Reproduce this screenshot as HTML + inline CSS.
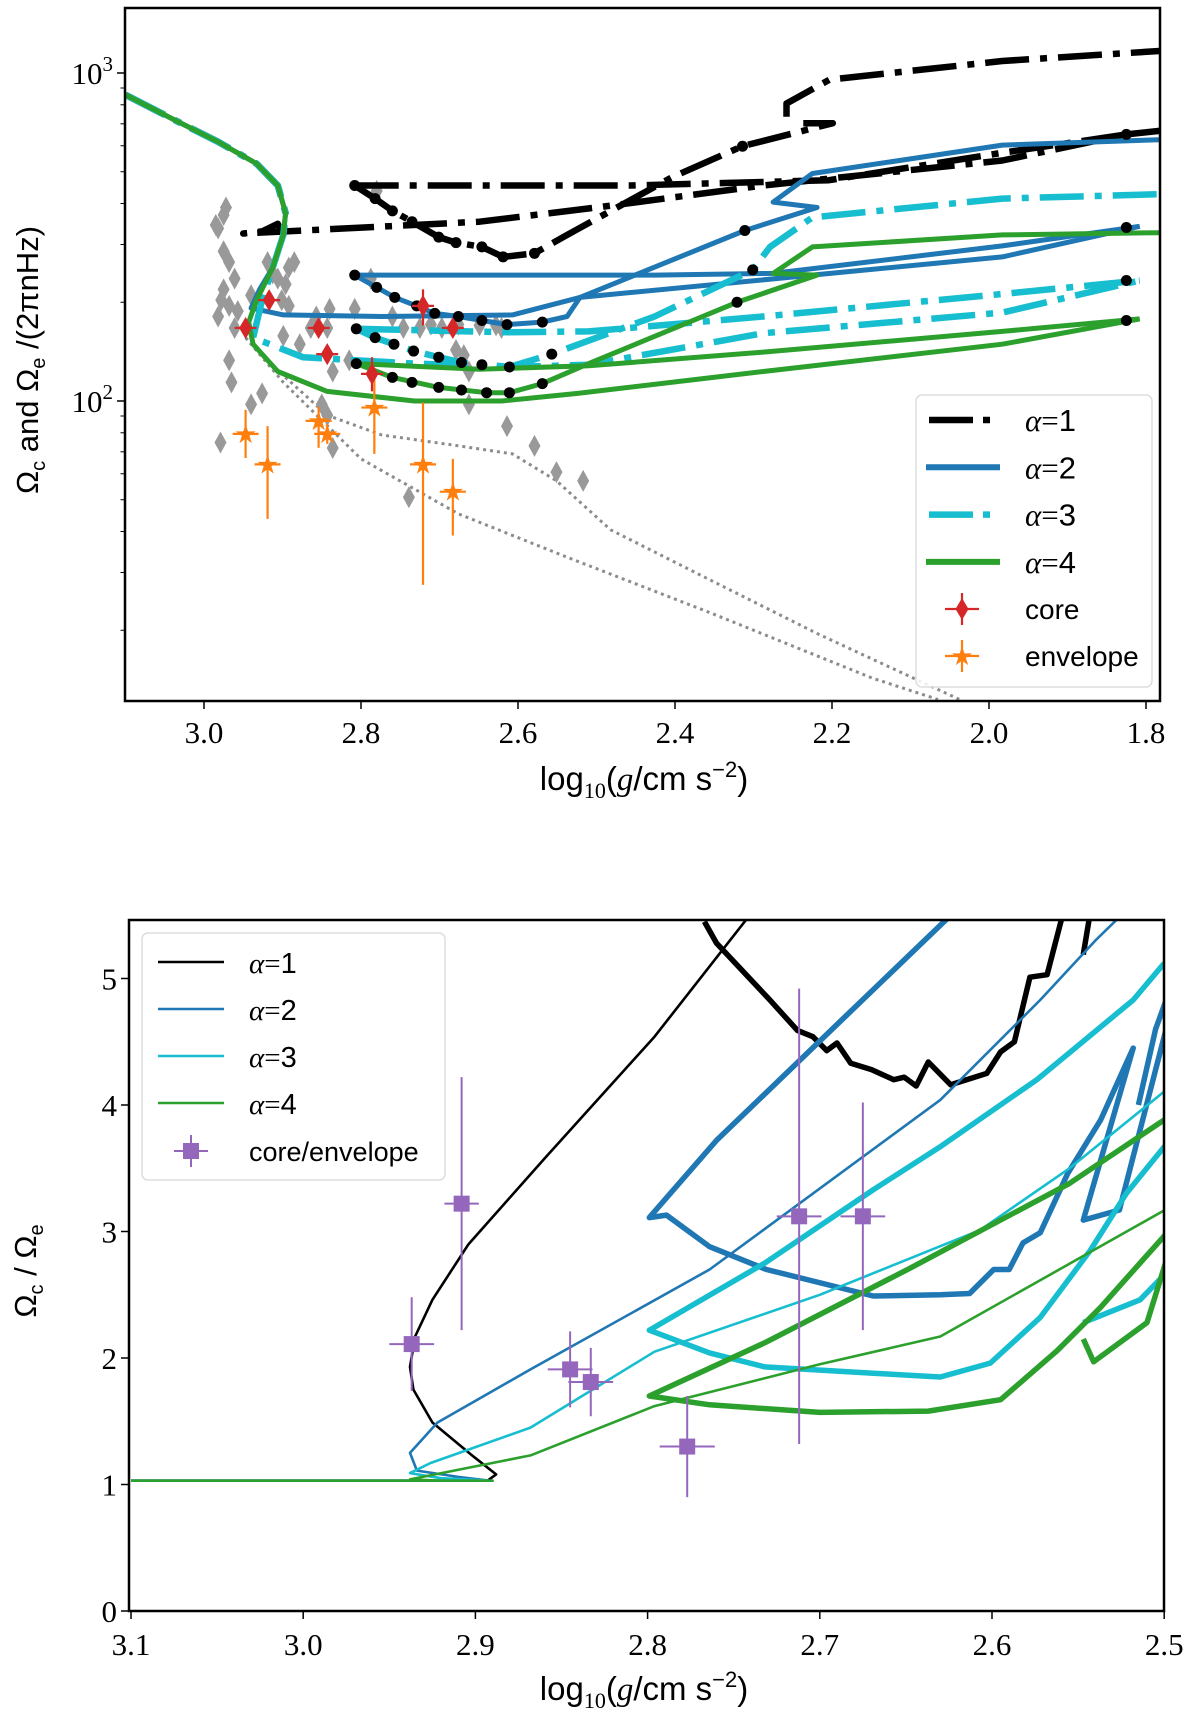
<!DOCTYPE html>
<html><head><meta charset="utf-8">
<style>
html,body{margin:0;padding:0;background:#fff;}
svg{font-family:"Liberation Serif",serif;}
</style></head>
<body>
<svg id="fig" width="1200" height="1718" viewBox="0 0 1200 1718" xmlns="http://www.w3.org/2000/svg">
<defs>
<clipPath id="clipTop"><rect x="125" y="8" width="1035" height="693"/></clipPath>
<clipPath id="clipBot"><rect x="129" y="920" width="1035" height="691"/></clipPath>
</defs>
<g id="top"></g>
<g id="bot"></g>
</svg>
<script>
// ================= TOP PANEL DATA =================
const topXTicks = [3.0, 2.8, 2.6, 2.4, 2.2, 2.0, 1.8];
const topXTickLabels = ["3.0","2.8","2.6","2.4","2.2","2.0","1.8"];
const sharedTrack = [[3.10,858],[3.0375,719],[2.982,617],[2.933,529],[2.906,454],[2.896,374],[2.899,321]];
const a1Main = [[2.906,347],[2.926,329],[2.95,324],[2.649,352],[2.5,389],[2.2875,454],[1.983,541],[1.825,650],[1.783,666]];
const a1Flat = [[2.808,454],[2.457,454],[2.204,471],[1.983,571],[1.825,650]];
const a1Dotted = [[2.808,454],[2.782,414],[2.76,380],[2.735,352],[2.701,316],[2.679,304],[2.646,295],[2.619,275],[2.579,282],[2.5375,321],[2.403,482],[2.314,598],[2.199,703],[2.239,703]];
const a1Upper = [[2.258,736],[2.258,807],[2.203,955],[1.983,1088],[1.783,1167]];
const a2Main = [[2.9125,255],[2.929,219],[2.94,192],[2.899,183],[2.774,181],[2.607,183],[2.521,207],[1.983,275],[1.808,341]];
const a2Flat = [[2.808,242],[2.426,242],[2.275,245],[1.983,297],[1.808,341]];
const a2Dotted = [[2.808,242],[2.78,222],[2.757,207],[2.729,195],[2.706,185],[2.676,181],[2.614,171],[2.569,174],[2.5375,181],[2.521,207],[2.311,331],[2.219,389],[2.275,404],[2.225,494],[1.983,603],[1.783,626]];
const a3Main = [[2.9125,255],[2.926,203],[2.9375,156],[2.874,136],[2.732,130],[2.607,127],[2.51,129],[2.2875,161],[1.983,186],[1.808,233]];
const a3Flat = [[2.806,166],[2.611,162],[2.51,163],[2.2875,181],[1.983,212],[1.808,233]];
const a3Dotted = [[2.806,166],[2.782,156],[2.758,149],[2.733,142],[2.701,136],[2.672,131],[2.611,127],[2.557,139],[2.426,181],[2.301,251],[2.279,295],[2.225,363],[1.983,414],[1.783,427]];
const a4Main = [[2.9125,255],[2.933,203],[2.943,174],[2.9375,149],[2.906,123],[2.843,107],[2.732,100],[2.621,100],[2.524,105.5],[2.2875,123],[1.983,149],[1.808,178]];
const a4Flat = [[2.806,130],[2.649,125],[2.51,128],[2.2875,141],[1.983,163],[1.808,178]];
const a4Dotted = [[2.806,130],[2.76,118],[2.701,110],[2.64,106],[2.611,106],[2.569,113],[2.51,130],[2.321,200],[2.219,242],[2.275,245],[2.225,295],[1.983,321],[1.783,326]];
const modelDotsX = [2.808,2.782,2.76,2.735,2.701,2.679,2.646,2.619,2.579, 2.808,2.78,2.757,2.729,2.706,2.676,2.646,2.614,2.569, 2.806,2.782,2.758,2.733,2.701,2.672,2.646,2.611,2.557, 2.806,2.76,2.735,2.701,2.672,2.64,2.611,2.569, 2.311,2.301,2.321,2.314, 1.825,1.825,1.825,1.825];
const modelDotsY = [454,414,380,352,316,304,295,275,282, 242,222,207,195,185,181,176,171,174, 166,156,149,142,136,131,129,127,139, 130,118,114,110,108,106,106,113, 331,251,200,598, 650,338,233,176];
const grayDotted1 = [[2.947,156],[2.9125,128],[2.843,90.5],[2.774,78.8],[2.676,73],[2.607,69],[2.551,57.1],[2.482,40.5],[2.357,28.6],[2.218,19.5],[2.0375,12.3]];
const grayDotted2 = [[2.947,156],[2.899,114],[2.80,66.6],[2.676,45.3],[2.5375,33.4],[2.357,22.7],[2.149,14.3],[2.065,12.3]];
const starX = [2.985,2.975,2.982,2.972,2.975,2.968,2.961,2.975,2.978,2.968,2.982,2.961,2.957,2.94,2.919,2.9125,2.906,2.892,2.885,2.896,2.901,2.892,2.899,2.878,2.864,2.857,2.840,2.843,2.843,2.836,2.815,2.808,2.7875,2.78,2.76,2.746,2.725,2.711,2.697,2.676,2.649,2.628,2.679,2.6625,2.621,2.968,2.965,2.979,2.94,2.926,2.85,2.843,2.836,2.6625,2.614,2.579,2.551,2.517,2.739,2.669];
const starY = [344,369,336,389,286,265,236,219,203,195,181,167,188,210,265,245,236,255,265,227,203,195,158,149,167,181,191,167,139,123,133,191,236,437,181,167,167,171,167,171,170,170,143,123,167,133,114,74.7,97.7,105.5,97.7,90.5,71.9,97.7,83.8,73.0,60.7,57.1,50.9,138];
const coreX = [2.947,2.917,2.854,2.843,2.786,2.721,2.683];
const coreY = [167,203,167,139,121,195,167];
const coreLo = [157,192,158,131,107,170,158];
const coreHi = [178,215,176,147,136,219,177];
const envX = [2.947,2.919,2.854,2.843,2.783,2.721,2.683];
const envY = [79.4,64.1,87,79.4,95.5,64.1,52.9];
const envLo = [67,43.7,72,74,69,27.5,38.9];
const envHi = [94,83.8,96,85,123,99,66.6];

// ================= BOTTOM PANEL DATA =================
const botXTicks = [3.1,3.0,2.9,2.8,2.7,2.6,2.5];
const botXTickLabels = ["3.1","3.0","2.9","2.8","2.7","2.6","2.5"];
const botYTicks = [0,1,2,3,4,5];
const b1Thin = [[3.1,1.03],[2.893,1.03],[2.888,1.08],[2.901,1.22],[2.925,1.49],[2.936,1.75],[2.938,1.93],[2.935,2.17],[2.925,2.46],[2.904,2.9],[2.859,3.59],[2.796,4.54],[2.739,5.53]];
const b1Thick = [[2.767,5.45],[2.760,5.28],[2.740,4.99],[2.729,4.83],[2.713,4.59],[2.704,4.54],[2.696,4.43],[2.690,4.49],[2.682,4.33],[2.670,4.28],[2.657,4.20],[2.651,4.22],[2.644,4.15],[2.637,4.34],[2.624,4.16],[2.603,4.25],[2.595,4.42],[2.587,4.50],[2.578,5.01],[2.568,5.03],[2.560,5.45],[2.558,5.6]];
const b1Frag = [[2.547,5.19],[2.542,5.6]];
const b2Thin = [[3.1,1.03],[2.892,1.03],[2.91,1.06],[2.934,1.11],[2.938,1.25],[2.922,1.49],[2.868,1.91],[2.764,2.70],[2.63,4.04],[2.572,4.83],[2.54,5.3],[2.525,5.5]];
const b2Thick = [[2.624,5.5],[2.663,4.99],[2.760,3.72],[2.799,3.11],[2.789,3.13],[2.764,2.88],[2.731,2.70],[2.669,2.49],[2.630,2.50],[2.613,2.51],[2.599,2.70],[2.590,2.70],[2.582,2.91],[2.572,2.99],[2.556,3.46],[2.537,3.88],[2.522,4.33],[2.518,4.45],[2.547,3.09],[2.526,3.17],[2.497,4.7]];
const b2Frag = [[2.515,4.0],[2.505,4.6],[2.497,4.9]];
const b3Thin = [[3.1,1.03],[2.892,1.03],[2.92,1.05],[2.938,1.09],[2.926,1.17],[2.868,1.45],[2.796,2.05],[2.7,2.5],[2.607,3.01],[2.555,3.5],[2.497,4.14]];
const b3Thick = [[2.5,5.12],[2.518,4.83],[2.574,4.2],[2.63,3.67],[2.669,3.33],[2.732,2.75],[2.799,2.22],[2.764,2.04],[2.732,1.93],[2.669,1.88],[2.63,1.85],[2.601,1.96],[2.572,2.32],[2.543,2.85],[2.522,3.30],[2.497,3.72]];
const b3Frag = [[2.547,2.28],[2.514,2.46],[2.497,2.7]];
const b4Thin = [[3.1,1.03],[2.89,1.03],[2.92,1.03],[2.938,1.04],[2.868,1.23],[2.796,1.62],[2.7,1.95],[2.63,2.17],[2.497,3.19]];
const b4Thick = [[2.497,3.91],[2.555,3.38],[2.649,2.70],[2.732,2.12],[2.799,1.70],[2.764,1.63],[2.7,1.57],[2.637,1.58],[2.595,1.67],[2.562,2.06],[2.537,2.40],[2.497,3.01]];
const b4Frag = [[2.547,2.15],[2.541,1.97],[2.510,2.28],[2.497,2.85]];
const ratioX = [2.937,2.908,2.845,2.833,2.777,2.712,2.675];
const ratioY = [2.11,3.22,1.91,1.81,1.30,3.12,3.12];
const ratioYErr = [0.37,1.0,0.3,0.27,0.4,1.8,0.9];
const ratioXErr = [0.013,0.01,0.013,0.013,0.016,0.013,0.013];

// ================= helpers =================
const NS = "http://www.w3.org/2000/svg";
function mk(tag, attrs, parent){ const e=document.createElementNS(NS,tag); for(const k in attrs) e.setAttribute(k,attrs[k]); parent.appendChild(e); return e; }
const topG = document.getElementById('top'), botG = document.getElementById('bot');
const tL=125,tR=1160,tT=8,tB=701;
function tx(v){ return 204 + (3.0 - v)*785; }
function ty(v){ return 401 - (Math.log10(v)-2)*328; }
const bL=129,bR=1164,bT=920,bB=1611;
function bx(v){ return 131 + (3.1 - v)*1722; }
function by(v){ return 1611 - v*126.5; }

const C = {k:"#000000", b:"#1f77b4", c:"#17becf", g:"#2ca02c", r:"#d62728", o:"#ff7f0e", p:"#9467bd", gr:"#8c8c8c"};
const DASHDOT = "44,11,7,11";
const SANS = "Liberation Sans, sans-serif";

function poly(parent, pts, fx, fy, style, name){
  const d = pts.map((p,i)=>(i?"L":"M")+fx(p[0]).toFixed(1)+","+fy(p[1]).toFixed(1)).join(" ");
  const e = mk('path',{d:d, fill:"none", "stroke-linejoin":"round", ...style}, parent);
  
  
  return e;
}

// ================= TOP PANEL =================
const topPlot = mk('g',{"clip-path":"url(#clipTop)"}, topG);


poly(topPlot, grayDotted1, tx, ty, {stroke:C.gr,"stroke-width":3,"stroke-dasharray":"3,4"}, 'gray-dotted-track-1');
poly(topPlot, grayDotted2, tx, ty, {stroke:C.gr,"stroke-width":3,"stroke-dasharray":"3,4"}, 'gray-dotted-track-2');
for(let i=0;i<starX.length;i++){
  const x=tx(starX[i]), y=ty(starY[i]);
  const e = mk('path',{d:`M${x},${y-11} L${x+6},${y} L${x},${y+11} L${x-6},${y} Z`, fill:"#999999"}, topPlot);
  
  
}
const ddStyle = (col)=>({stroke:col,"stroke-width":6.5,"stroke-dasharray":DASHDOT});
const solid = (col)=>({stroke:col,"stroke-width":5});
poly(topPlot, sharedTrack.concat(a1Main), tx, ty, ddStyle(C.k), 'alpha1-main-track');
poly(topPlot, a1Flat, tx, ty, ddStyle(C.k), 'alpha1-track-2');
poly(topPlot, a1Dotted, tx, ty, ddStyle(C.k), 'alpha1-track-3');
poly(topPlot, a1Upper, tx, ty, ddStyle(C.k), 'alpha1-track-4');
poly(topPlot, sharedTrack.concat(a2Main), tx, ty, solid(C.b), 'alpha2-main-track');
poly(topPlot, a2Flat, tx, ty, solid(C.b), 'alpha2-track-2');
poly(topPlot, a2Dotted, tx, ty, solid(C.b), 'alpha2-track-3');
poly(topPlot, sharedTrack.concat(a3Main), tx, ty, ddStyle(C.c), 'alpha3-main-track');
poly(topPlot, a3Flat, tx, ty, ddStyle(C.c), 'alpha3-track-2');
poly(topPlot, a3Dotted, tx, ty, ddStyle(C.c), 'alpha3-track-3');
poly(topPlot, sharedTrack.concat(a4Main), tx, ty, solid(C.g), 'alpha4-main-track');
poly(topPlot, a4Flat, tx, ty, solid(C.g), 'alpha4-track-2');
poly(topPlot, a4Dotted, tx, ty, solid(C.g), 'alpha4-track-3');
for(let i=0;i<modelDotsX.length;i++){
  const e = mk('circle',{cx:tx(modelDotsX[i]), cy:ty(modelDotsY[i]), r:5.5, fill:"#000"}, topPlot);
  
  
}
for(let i=0;i<envX.length;i++){
  const x=tx(envX[i]), y=ty(envY[i]);
  const g = mk('g',{}, topPlot);
  
  
  mk('line',{x1:x,y1:ty(envLo[i]),x2:x,y2:ty(envHi[i]),stroke:C.o,"stroke-width":2.2},g);
  mk('line',{x1:x-13,y1:y,x2:x+13,y2:y,stroke:C.o,"stroke-width":2.2},g);
  mk('text',{x:x,y:y+9,"text-anchor":"middle","font-size":26,fill:C.o,"font-family":"DejaVu Sans, sans-serif"},g).textContent="★";
}
for(let i=0;i<coreX.length;i++){
  const x=tx(coreX[i]), y=ty(coreY[i]);
  const g = mk('g',{}, topPlot);
  
  
  mk('line',{x1:x,y1:ty(coreLo[i]),x2:x,y2:ty(coreHi[i]),stroke:C.r,"stroke-width":2.2},g);
  mk('line',{x1:x-11,y1:y,x2:x+11,y2:y,stroke:C.r,"stroke-width":2.2},g);
  mk('path',{d:`M${x},${y-11} L${x+6.5},${y} L${x},${y+11} L${x-6.5},${y} Z`, fill:C.r},g);
}
const tf = mk('rect',{x:tL,y:tT,width:tR-tL,height:tB-tT,fill:"none",stroke:"#000","stroke-width":2.5},topG);
 
topXTicks.forEach((v,i)=>{
  const x=tx(v);
  mk('line',{x1:x,y1:tB,x2:x,y2:tB+8,stroke:"#000","stroke-width":1.5},topG);
  const t=mk('text',{x:x,y:743,"text-anchor":"middle","font-size":31},topG);
  t.textContent=topXTickLabels[i];
   
});
for(let dec=1; dec<=3; dec++){
  for(let m=1;m<=9;m++){
    const v=m*Math.pow(10,dec); const y=ty(v);
    if(y<tT||y>tB) continue;
    mk('line',{x1:tL-(m===1?8:4.5),y1:y,x2:tL,y2:y,stroke:"#000","stroke-width":m===1?1.5:1},topG);
    if(m===1){
      const t=mk('text',{x:tL-12,y:y+11,"text-anchor":"end","font-size":31},topG);
       
      t.innerHTML='10<tspan dy="-13" font-size="21">'+dec+'</tspan>';
    }
  }
}
const txl=mk('text',{x:644,y:790,"text-anchor":"middle","font-size":33,"font-family":SANS},topG);
 
txl.innerHTML='log<tspan dy="8" font-size="22" font-family="Liberation Serif, serif">10</tspan><tspan dy="-8">(</tspan><tspan font-style="italic" font-family="Liberation Serif, serif">g</tspan>/cm s<tspan dy="-13" font-size="22">−2</tspan><tspan dy="13">)</tspan>';
const tyl=mk('text',{x:0,y:0,"text-anchor":"middle","font-size":31,"font-family":SANS,transform:"translate(38,360) rotate(-90)"},topG);
 
tyl.innerHTML='Ω<tspan dy="7" font-size="20">c</tspan><tspan dy="-7"> and Ω</tspan><tspan dy="7" font-size="20">e</tspan><tspan dy="-7"> /(2πnHz)</tspan>';
const lg = mk('g',{},topG);
 
mk('rect',{x:916,y:395,width:236,height:292,rx:6,fill:"#fff","fill-opacity":0.85,stroke:"#dddddd","stroke-width":1.5},lg);
const legTop = [["α=1",C.k,true],["α=2",C.b,false],["α=3",C.c,true],["α=4",C.g,false]];
legTop.forEach((L,i)=>{
  const y=420+i*47.3;
  const g=mk('g',{},lg);
   
  if(L[2]){ mk('line',{x1:929,y1:y,x2:973,y2:y,stroke:L[1],"stroke-width":6.5},g); mk('line',{x1:983,y1:y,x2:990,y2:y,stroke:L[1],"stroke-width":6.5},g); }
  else mk('line',{x1:926,y1:y,x2:1000,y2:y,stroke:L[1],"stroke-width":6},g);
  const t=mk('text',{x:1025,y:y+11,"font-size":31},g);
  t.innerHTML='<tspan font-style="italic">α</tspan>=<tspan font-family="Liberation Sans, sans-serif">'+L[0].slice(2)+'</tspan>';
});
[["core",C.r,609],["envelope",C.o,656]].forEach((L,i)=>{
  const g=mk('g',{},lg);
   
  const x=962,y=L[2];
  mk('line',{x1:x,y1:y-16,x2:x,y2:y+16,stroke:L[1],"stroke-width":2.2},g);
  mk('line',{x1:x-17,y1:y,x2:x+17,y2:y,stroke:L[1],"stroke-width":2.2},g);
  if(i===0) mk('path',{d:`M${x},${y-11} L${x+6.5},${y} L${x},${y+11} L${x-6.5},${y} Z`,fill:L[1]},g);
  else mk('text',{x:x,y:y+9,"text-anchor":"middle","font-size":26,fill:L[1],"font-family":"DejaVu Sans, sans-serif"},g).textContent="★";
  const t=mk('text',{x:1025,y:y+10,"font-size":28,"font-family":SANS},g);
  t.textContent=L[0];
});

// ================= BOTTOM PANEL =================
const botPlot = mk('g',{"clip-path":"url(#clipBot)"}, botG);


const th=(col)=>({stroke:col,"stroke-width":2.6});
const tk=(col)=>({stroke:col,"stroke-width":5.5});
poly(botPlot, b1Thin, bx, by, th(C.k), 'ratio-alpha1-thin');
poly(botPlot, b1Thick, bx, by, tk(C.k), 'ratio-alpha1-thick');
poly(botPlot, b1Frag, bx, by, tk(C.k), 'ratio-alpha1-thick-2');
poly(botPlot, b2Thin, bx, by, th(C.b), 'ratio-alpha2-thin');
poly(botPlot, b2Thick, bx, by, tk(C.b), 'ratio-alpha2-thick');
poly(botPlot, b2Frag, bx, by, tk(C.b), 'ratio-alpha2-thick-2');
poly(botPlot, b3Thin, bx, by, th(C.c), 'ratio-alpha3-thin');
poly(botPlot, b3Thick, bx, by, tk(C.c), 'ratio-alpha3-thick');
poly(botPlot, b3Frag, bx, by, tk(C.c), 'ratio-alpha3-thick-2');
poly(botPlot, b4Thin, bx, by, th(C.g), 'ratio-alpha4-thin');
poly(botPlot, b4Thick, bx, by, tk(C.g), 'ratio-alpha4-thick');
poly(botPlot, b4Frag, bx, by, tk(C.g), 'ratio-alpha4-thick-2');
for(let i=0;i<ratioX.length;i++){
  const x=bx(ratioX[i]), y=by(ratioY[i]);
  const g=mk('g',{},botPlot);
   
  mk('line',{x1:x,y1:by(ratioY[i]-ratioYErr[i]),x2:x,y2:by(ratioY[i]+ratioYErr[i]),stroke:C.p,"stroke-width":2},g);
  mk('line',{x1:bx(ratioX[i]+ratioXErr[i]),y1:y,x2:bx(ratioX[i]-ratioXErr[i]),y2:y,stroke:C.p,"stroke-width":2},g);
  mk('rect',{x:x-8,y:y-8,width:16,height:16,fill:C.p},g);
}
const bf = mk('rect',{x:bL,y:bT,width:bR-bL,height:bB-bT,fill:"none",stroke:"#000","stroke-width":2.5},botG);
 
botXTicks.forEach((v,i)=>{
  const x=bx(v);
  mk('line',{x1:x,y1:bB,x2:x,y2:bB+8,stroke:"#000","stroke-width":1.5},botG);
  const t=mk('text',{x:x,y:1655,"text-anchor":"middle","font-size":31},botG);
  t.textContent=botXTickLabels[i];
   
});
botYTicks.forEach(v=>{
  const y=by(v);
  mk('line',{x1:bL-8,y1:y,x2:bL,y2:y,stroke:"#000","stroke-width":1.5},botG);
  const t=mk('text',{x:bL-12,y:y+11,"text-anchor":"end","font-size":31},botG);
  t.textContent=String(v);
   
});
const bxl=mk('text',{x:644,y:1700,"text-anchor":"middle","font-size":33,"font-family":SANS},botG);
 
bxl.innerHTML='log<tspan dy="8" font-size="22" font-family="Liberation Serif, serif">10</tspan><tspan dy="-8">(</tspan><tspan font-style="italic" font-family="Liberation Serif, serif">g</tspan>/cm s<tspan dy="-13" font-size="22">−2</tspan><tspan dy="13">)</tspan>';
const byl=mk('text',{x:0,y:0,"text-anchor":"middle","font-size":31,"font-family":SANS,transform:"translate(36,1271) rotate(-90)"},botG);
 
byl.innerHTML='Ω<tspan dy="7" font-size="20">c</tspan><tspan dy="-7"> / Ω</tspan><tspan dy="7" font-size="20">e</tspan>';
const bl = mk('g',{},botG);
 
mk('rect',{x:142,y:933,width:303,height:247,rx:6,fill:"#fff","fill-opacity":0.85,stroke:"#dddddd","stroke-width":1.5},bl);
[C.k,C.b,C.c,C.g].forEach((col,i)=>{
  const y=962+i*47;
  const g=mk('g',{},bl);
   
  mk('line',{x1:158,y1:y,x2:224,y2:y,stroke:col,"stroke-width":2.6},g);
  const t=mk('text',{x:249,y:y+11,"font-size":29},g);
  t.innerHTML='<tspan font-style="italic">α</tspan>=<tspan font-family="Liberation Sans, sans-serif">'+(i+1)+'</tspan>';
});
(function(){
  const g=mk('g',{},bl);
   
  const x=191,y=1151;
  mk('line',{x1:x,y1:y-16,x2:x,y2:y+16,stroke:C.p,"stroke-width":2},g);
  mk('line',{x1:x-17,y1:y,x2:x+17,y2:y,stroke:C.p,"stroke-width":2},g);
  mk('rect',{x:x-8,y:y-8,width:16,height:16,fill:C.p},g);
  const t=mk('text',{x:249,y:y+10,"font-size":27,"font-family":SANS},g);
  t.textContent="core/envelope";
})();
</script>
</body></html>
